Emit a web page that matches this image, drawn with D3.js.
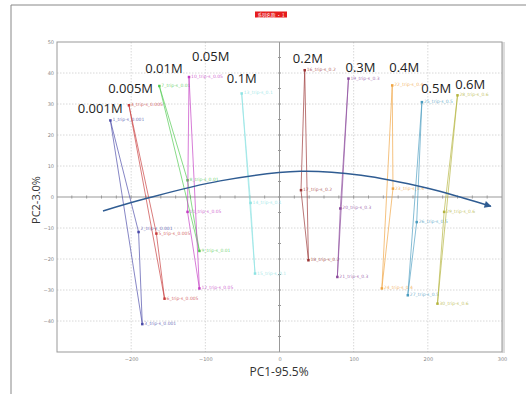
<!DOCTYPE html>
<html><head><meta charset="utf-8">
<script src="https://cdn.jsdelivr.net/npm/d3@7"></script>
<style>body{margin:0;background:#fff;}svg{display:block;}</style>
</head><body>
<svg id="c" width="526" height="394"></svg>
<script>
// ---- data ----
const groups = ["0.001M","0.005M","0.01M","0.05M","0.1M","0.2M","0.3M","0.4M","0.5M","0.6M"];
const sampleSuffix = ["0.001","0.005","0.01","0.05","0.1","0.2","0.3","0.4","0.5","0.6"];
// PC1 / PC2 scores, three replicates per group (top, middle, bottom)
const pc1 = [
  [-228,-190,-185],
  [-203,-166,-155],
  [-162,-124,-108],
  [-122,-124,-108],
  [-51,-39,-33],
  [34,29,39],
  [93,82,78],
  [152,153,138],
  [192,185,173],
  [240,222,213]
];
const pc2 = [
  [24.7,-11.3,-41],
  [29.6,-11.8,-32.8],
  [35.8,5.4,-17.4],
  [38.7,-4.8,-29.5],
  [33.4,-1.9,-24.7],
  [40.9,2.2,-20.4],
  [38.2,-3.7,-25.8],
  [36,2.7,-29.5],
  [30.6,-8.1,-31.7],
  [32.8,-4.8,-34.4]
];
// group annotation anchors (data coordinates)
const labelX = [-272,-231,-181,-118,-71,18,89,148,191,237];
const labelY = [27,33.5,39.9,43.8,36.7,43.1,40.2,40.4,33.6,35.0];
// trend arrow (data coordinates)
const arrowX = [-238,-180,-80,28,110,200,250,285];
const arrowY = [-4.5,-0.5,5.2,8.3,7,2.8,-0.5,-3];
const xTicks = [-200,-100,0,100,200,300];
const yTicks = [50,40,30,20,10,0,-10,-20,-30,-40];
const colors = ["#4a4aa8","#c83c3c","#4fc94f","#c43cc4","#8ee3e3","#9a3434","#8c4a9c","#f0a442","#4a9cc0","#b4b43e"];

// ---- layout ----
const svg = d3.select("#c");
const L=57, R=502, T=42, B=352;
const x = d3.scaleLinear().domain([-300,300]).range([L,R]);
const y = d3.scaleLinear().domain([-50,50]).range([B,T]);

// outer frame lines
svg.append("line").attr("x1",11).attr("x2",526).attr("y1",5).attr("y2",5).attr("stroke","#888").attr("stroke-width",1);
svg.append("line").attr("x1",11).attr("x2",11).attr("y1",5).attr("y2",394).attr("stroke","#888").attr("stroke-width",1);

// legend box
svg.append("rect").attr("x",255).attr("y",11.5).attr("width",32).attr("height",6).attr("fill","#e51c1c");
svg.append("text").attr("x",271).attr("y",16.5).attr("text-anchor","middle").attr("font-size",4.5)
  .attr("font-family","Noto Sans CJK SC").attr("fill","#fff").text("系列名称 • 1");

// grid
const g = svg.append("g");
g.selectAll(".gx").data(xTicks.filter(d=>d!==0 && d!==300)).join("line")
  .attr("x1",d=>x(d)).attr("x2",d=>x(d)).attr("y1",T).attr("y2",B)
  .attr("stroke","#d8d8d8").attr("stroke-dasharray","1.5,1.5");
g.selectAll(".gy").data(yTicks.filter(d=>d!==0 && d!==50)).join("line")
  .attr("x1",L).attr("x2",R).attr("y1",d=>y(d)).attr("y2",d=>y(d))
  .attr("stroke","#d8d8d8").attr("stroke-dasharray","1.5,1.5");

// zero axes
g.append("line").attr("x1",x(0)).attr("x2",x(0)).attr("y1",T).attr("y2",B).attr("stroke","#999");
g.append("line").attr("x1",L).attr("x2",R).attr("y1",y(0)).attr("y2",y(0)).attr("stroke","#999");
g.selectAll(".mty").data(d3.range(-45,50,5)).join("line")
  .attr("x1",x(0)-1.5).attr("x2",x(0)+1.5).attr("y1",d=>y(d)).attr("y2",d=>y(d)).attr("stroke","#999");
g.selectAll(".mtx").data(d3.range(-280,300,20)).join("line")
  .attr("x1",d=>x(d)).attr("x2",d=>x(d)).attr("y1",y(0)-1.5).attr("y2",y(0)+1.5).attr("stroke","#999");

// frame
svg.append("line").attr("x1",R+1.5).attr("x2",R+1.5).attr("y1",T).attr("y2",B+1).attr("stroke","#ddd").attr("stroke-width",3);
svg.append("rect").attr("x",L).attr("y",T).attr("width",R-L).attr("height",B-T).attr("fill","none").attr("stroke","#999");

// axes (labels only)
const xa = svg.append("g").attr("transform",`translate(0,${B})`).call(d3.axisBottom(x).tickValues(xTicks).tickSize(0).tickPadding(5));
const ya = svg.append("g").attr("transform",`translate(${L},0)`).call(d3.axisLeft(y).tickValues(yTicks).tickSize(0).tickPadding(3));
[xa,ya].forEach(a=>{a.select(".domain").remove();a.selectAll("text").attr("font-size",5).attr("fill","#888").attr("font-family","DejaVu Sans");});

svg.append("text").attr("x",279).attr("y",376).attr("text-anchor","middle").attr("font-size",12)
  .attr("font-family","Open Sans").attr("fill","#333").text("PC1-95.5%");
svg.append("text").attr("transform","translate(40,200) rotate(-90)").attr("text-anchor","middle").attr("font-size",11)
  .attr("font-family","Open Sans").attr("fill","#333").text("PC2-3.0%");

// series
groups.forEach((name,i)=>{
  const pts = pc1[i].map((v,j)=>[v,pc2[i][j]]);
  const sg = svg.append("g");
  sg.append("path").attr("d",d3.line().x(d=>x(d[0])).y(d=>y(d[1]))(pts.concat([pts[0]])))
    .attr("fill","none").attr("stroke",colors[i]).attr("stroke-width",0.9).attr("stroke-opacity",0.75);
  sg.selectAll("rect").data(pts).join("rect")
    .attr("x",d=>x(d[0])-1.25).attr("y",d=>y(d[1])-1.25).attr("width",2.5).attr("height",2.5).attr("fill",colors[i]);
  sg.selectAll("text").data(pts).join("text")
    .attr("x",d=>x(d[0])+2).attr("y",(d,j)=>y(d[1])+1-(i===0&&j===1?3:0))
    .attr("font-size",4.5).attr("font-family","DejaVu Sans").attr("fill",colors[i]).attr("fill-opacity",0.8)
    .text((d,j)=>`${i*3+j+1}_trip-s_${sampleSuffix[i]}`);
  svg.append("text").attr("x",x(labelX[i])).attr("y",y(labelY[i]))
    .attr("font-size",13).attr("font-family","Open Sans").attr("fill","#222").text(name);
});

// trend arrow
svg.append("defs").append("marker").attr("id","ah").attr("viewBox","0 0 10 10").attr("refX",9).attr("refY",5)
  .attr("markerWidth",9).attr("markerHeight",7).attr("markerUnits","userSpaceOnUse").attr("orient","auto")
  .append("path").attr("d","M0,0L10,5L0,10z").attr("fill","#2f5c92");
const ap = arrowX.map((v,k)=>[v,arrowY[k]]);
svg.append("path").attr("d",d3.line().x(d=>x(d[0])).y(d=>y(d[1])).curve(d3.curveCatmullRom)(ap))
  .attr("fill","none").attr("stroke","#2f5c92").attr("stroke-width",1.5).attr("marker-end","url(#ah)");
</script>
</body></html>
